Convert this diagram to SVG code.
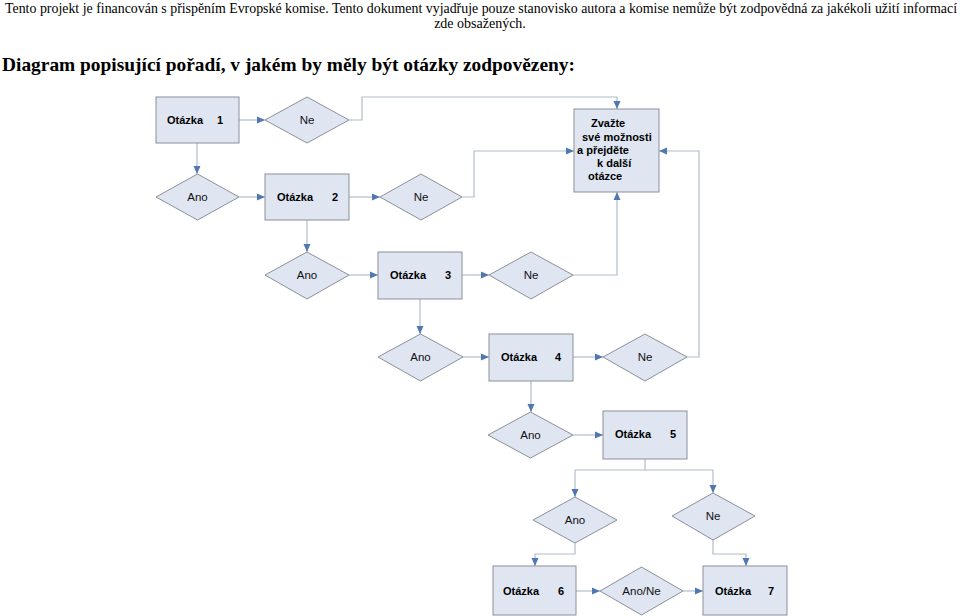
<svg xmlns="http://www.w3.org/2000/svg" width="960" height="616" viewBox="0 0 960 616">
<defs>
<marker id="ah" markerUnits="userSpaceOnUse" markerWidth="8" markerHeight="8" refX="8" refY="4" orient="auto">
<path d="M0,0.5 L8,4 L0,7.5 z" fill="#4f78b3"/>
</marker>
<style>
.hdr{font-family:"Liberation Serif","Times New Roman",serif;font-size:14px;fill:#000}
.ttl{font-family:"Liberation Serif","Times New Roman",serif;font-size:19px;font-weight:bold;fill:#000}
.box{fill:#dfe5f1;stroke:#8b9099;stroke-width:1}
.dia{fill:#dfe5f1;stroke:#8b9099;stroke-width:1}
.lb{font-family:"Liberation Sans",Arial,sans-serif;font-size:11px;font-weight:bold;fill:#000}
.lr{font-family:"Liberation Sans",Arial,sans-serif;font-size:11.5px;fill:#111;text-anchor:middle}
.con{fill:none;stroke:#b2bccb;stroke-width:1.2}
</style>
</defs>
<rect width="960" height="616" fill="#fff"/>
<text class="hdr" x="5" y="13" textLength="952" lengthAdjust="spacingAndGlyphs">Tento projekt je financován s přispěním Evropské komise. Tento dokument vyjadřuje pouze stanovisko autora a komise nemůže být zodpovědná za jakékoli užití informací</text>
<text class="hdr" x="480" y="28" text-anchor="middle">zde obsažených.</text>
<text class="ttl" x="2" y="71" textLength="573" lengthAdjust="spacingAndGlyphs">Diagram popisující pořadí, v jakém by měly být otázky zodpovězeny:</text>

<g id="connectors">
<path class="con" d="M239,120 H265" marker-end="url(#ah)"/>
<path class="con" d="M349,120 H362 V97 H617 V109" marker-end="url(#ah)"/>
<path class="con" d="M197,143 V174" marker-end="url(#ah)"/>
<path class="con" d="M239,197 H265" marker-end="url(#ah)"/>
<path class="con" d="M349,197 H380" marker-end="url(#ah)"/>
<path class="con" d="M462,197 H474 V151 H574" marker-end="url(#ah)"/>
<path class="con" d="M307,220 V252" marker-end="url(#ah)"/>
<path class="con" d="M349,275 H378" marker-end="url(#ah)"/>
<path class="con" d="M462,275 H489" marker-end="url(#ah)"/>
<path class="con" d="M573,275 H617 V192" marker-end="url(#ah)"/>
<path class="con" d="M420,299 V334" marker-end="url(#ah)"/>
<path class="con" d="M463,357 H489" marker-end="url(#ah)"/>
<path class="con" d="M573,357 H603" marker-end="url(#ah)"/>
<path class="con" d="M687,357 H699 V151 H659" marker-end="url(#ah)"/>
<path class="con" d="M531,381 V412" marker-end="url(#ah)"/>
<path class="con" d="M573,435 H603" marker-end="url(#ah)"/>
<path class="con" d="M645,459 V470 M575,470 H713"/>
<path class="con" d="M575,470 V497" marker-end="url(#ah)"/>
<path class="con" d="M713,470 V493" marker-end="url(#ah)"/>
<path class="con" d="M575,543 V554 H535 V566" marker-end="url(#ah)"/>
<path class="con" d="M713,540 V554 H746 V566" marker-end="url(#ah)"/>
<path class="con" d="M576,591 H600" marker-end="url(#ah)"/>
<path class="con" d="M683,591 H703" marker-end="url(#ah)"/>
</g>

<g id="q1"><rect class="box" x="156" y="97" width="83" height="46"/><text class="lb" x="167" y="124">Otázka</text><text class="lb" x="217" y="124">1</text></g>
<g id="ne1"><polygon class="dia" points="265,120 307,97 349,120 307,143"/><text class="lr" x="307" y="124">Ne</text></g>
<g id="ano1"><polygon class="dia" points="156,197 197.5,174 239,197 197.5,220"/><text class="lr" x="197.5" y="201">Ano</text></g>
<g id="q2"><rect class="box" x="265" y="174" width="84" height="46"/><text class="lb" x="277" y="201">Otázka</text><text class="lb" x="332" y="201">2</text></g>
<g id="ne2"><polygon class="dia" points="380,197 421,174 462,197 421,220"/><text class="lr" x="421" y="201">Ne</text></g>
<g id="zvazte"><rect class="box" x="574" y="109" width="85" height="83"/>
<text class="lb" x="591" y="127">Zvažte</text>
<text class="lb" x="582" y="141">své možnosti</text>
<text class="lb" x="577" y="154">a přejděte</text>
<text class="lb" x="597" y="167">k další</text>
<text class="lb" x="588" y="180">otázce</text></g>
<g id="ano3"><polygon class="dia" points="265,275 307,252 349,275 307,299"/><text class="lr" x="307" y="279">Ano</text></g>
<g id="q3"><rect class="box" x="378" y="252" width="84" height="47"/><text class="lb" x="390" y="279">Otázka</text><text class="lb" x="445" y="279">3</text></g>
<g id="ne3"><polygon class="dia" points="489,275 531,252 573,275 531,299"/><text class="lr" x="531" y="279">Ne</text></g>
<g id="ano4"><polygon class="dia" points="378,357 420.5,334 463,357 420.5,381"/><text class="lr" x="420.5" y="361">Ano</text></g>
<g id="q4"><rect class="box" x="489" y="334" width="84" height="47"/><text class="lb" x="501" y="361">Otázka</text><text class="lb" x="555" y="361">4</text></g>
<g id="ne4"><polygon class="dia" points="603,357 645,334 687,357 645,381"/><text class="lr" x="645" y="361">Ne</text></g>
<g id="ano5"><polygon class="dia" points="488,435 530.5,412 573,435 530.5,458"/><text class="lr" x="530.5" y="439">Ano</text></g>
<g id="q5"><rect class="box" x="603" y="411" width="84" height="48"/><text class="lb" x="615" y="438">Otázka</text><text class="lb" x="670" y="438">5</text></g>
<g id="ano6"><polygon class="dia" points="533,520 575,497 617,520 575,543"/><text class="lr" x="575" y="524">Ano</text></g>
<g id="ne6"><polygon class="dia" points="672,516 713,493 755,516 713,540"/><text class="lr" x="713" y="520">Ne</text></g>
<g id="q6"><rect class="box" x="493" y="566" width="83" height="49"/><text class="lb" x="503" y="595">Otázka</text><text class="lb" x="558" y="595">6</text></g>
<g id="anone"><polygon class="dia" points="600,591 641.5,567 683,591 641.5,615"/><text class="lr" x="641.5" y="595">Ano/Ne</text></g>
<g id="q7"><rect class="box" x="703" y="566" width="84" height="49"/><text class="lb" x="715" y="595">Otázka</text><text class="lb" x="768" y="595">7</text></g>
</svg>
